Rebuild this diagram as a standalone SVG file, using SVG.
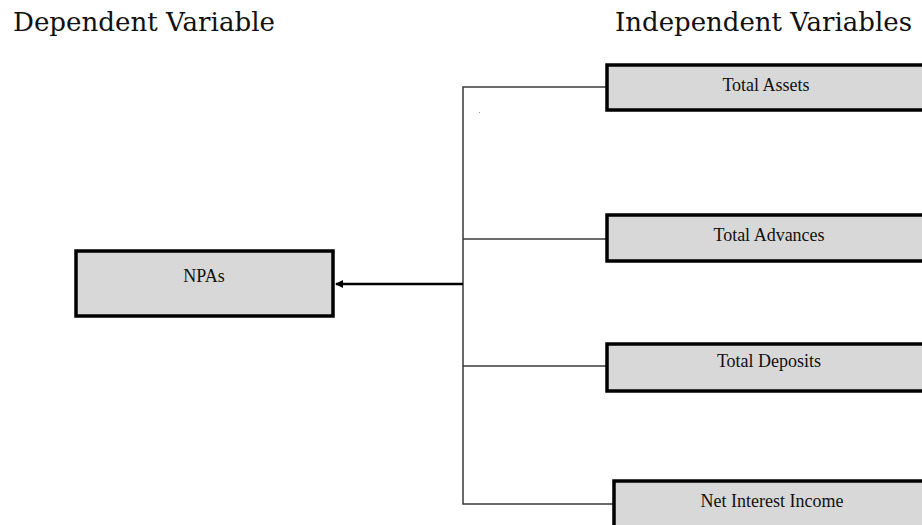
<svg xmlns="http://www.w3.org/2000/svg" width="922" height="525" viewBox="0 0 922 525">
<style>
.hdr{font-family:"DejaVu Serif","Liberation Serif",serif;font-size:25.5px;fill:#111}
.lbl{font-family:"Liberation Serif","Times New Roman",serif;font-size:18px;fill:#111;text-anchor:middle}
.box{fill:#d8d8d8;stroke:#000;stroke-width:3.5}
.conn{stroke:#3a3a3a;stroke-width:1.5;fill:none}
.arr{stroke:#000;stroke-width:2.5;fill:none}
</style>
<defs>
<marker id="ah" markerWidth="8" markerHeight="8" refX="7" refY="4" orient="auto" markerUnits="userSpaceOnUse">
<path d="M0,0 L8,4 L0,8 Z" fill="#000"/>
</marker>
</defs>
<rect width="922" height="525" fill="#fff"/>
<text class="hdr" x="13" y="31" textLength="262" lengthAdjust="spacingAndGlyphs">Dependent Variable</text>
<text class="hdr" x="615" y="31" textLength="297" lengthAdjust="spacingAndGlyphs">Independent Variables</text>
<g id="connectors">
<path class="conn" d="M606,87 H463 V504 H613"/>
<path class="conn" d="M463,239 H606"/>
<path class="conn" d="M463,366 H606"/>
<path class="arr" d="M463,284 H336" marker-end="url(#ah)"/>
<rect x="479" y="112" width="1" height="1" fill="#999"/>
</g>
<g id="npas">
<rect class="box" x="76" y="251" width="257" height="65"/>
<text class="lbl" x="204" y="282">NPAs</text>
</g>
<g id="total-assets">
<rect class="box" x="607" y="65" width="330" height="45"/>
<text class="lbl" x="766" y="91">Total Assets</text>
</g>
<g id="total-advances">
<rect class="box" x="607" y="215" width="330" height="46"/>
<text class="lbl" x="769" y="241">Total Advances</text>
</g>
<g id="total-deposits">
<rect class="box" x="607" y="344" width="330" height="47"/>
<text class="lbl" x="769" y="367">Total Deposits</text>
</g>
<g id="net-interest-income">
<rect class="box" x="614" y="481" width="330" height="60"/>
<text class="lbl" x="772" y="507">Net Interest Income</text>
</g>
</svg>
